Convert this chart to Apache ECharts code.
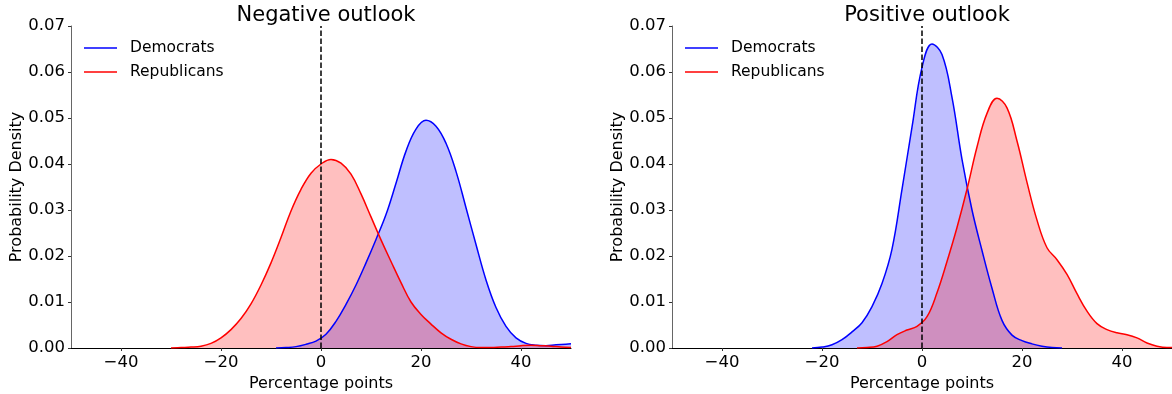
<!DOCTYPE html>
<html>
<head>
<meta charset="utf-8">
<script src="https://cdn.jsdelivr.net/npm/echarts@6/dist/echarts.min.js"></script>
<style>
  html, body { margin: 0; padding: 0; background: #fff; }
  #chart { width: 1172px; height: 394px; }
</style>
</head>
<body>
<div id="chart"></div>
<script>
// Kernel density estimates of the partisan gap (percentage points)
const panelTitles = ['Negative outlook', 'Positive outlook'];
const xTicks = [-40, -20, 0, 20, 40];

// Negative outlook – Democrats
const negDemX = [-9, -7, -5, -3, -1, 1, 3, 5, 7, 9, 11, 13, 15, 17, 19, 21, 23, 25, 27, 29, 31, 33, 35, 37, 39, 41, 43, 45, 47, 49, 50];
const negDemY = [0, 0.0001, 0.0003, 0.0008, 0.0015, 0.0030, 0.0058, 0.0095, 0.0137, 0.0185, 0.0236, 0.0290, 0.0358, 0.0428, 0.0476, 0.0495, 0.0482, 0.0445, 0.0384, 0.0305, 0.0225, 0.0148, 0.0088, 0.0047, 0.0022, 0.0010, 0.0006, 0.0005, 0.0007, 0.0008, 0.0009];

// Negative outlook – Republicans
const negRepX = [-30, -28, -26, -24, -22, -20, -18, -16, -14, -12, -10, -8, -6, -4, -2, 0, 2, 4, 6, 8, 10, 12, 14, 16, 18, 20, 22, 24, 26, 28, 30, 32, 34, 36, 38, 40, 42, 44, 46, 48, 50];
const negRepY = [0, 0.0001, 0.0002, 0.0004, 0.0010, 0.0022, 0.0040, 0.0064, 0.0096, 0.0137, 0.0185, 0.0240, 0.0298, 0.0345, 0.0380, 0.0400, 0.0410, 0.0402, 0.0378, 0.0335, 0.0285, 0.0235, 0.0188, 0.0142, 0.0100, 0.0073, 0.0052, 0.0033, 0.0019, 0.0009, 0.0003, 0.0001, 0.0001, 0.0002, 0.0003, 0.0005, 0.0006, 0.0005, 0.0004, 0.0002, 0.0001];

// Positive outlook – Democrats
const posDemX = [-22, -20, -18, -16, -14, -12, -10, -8, -6, -4, -2, 0, 2, 4, 6, 8, 10, 12, 14, 16, 18, 20, 22, 24, 26, 28];
const posDemY = [0, 0.0002, 0.0007, 0.0018, 0.0035, 0.0055, 0.0090, 0.0140, 0.0215, 0.0345, 0.0480, 0.0610, 0.0661, 0.0638, 0.0545, 0.0410, 0.0300, 0.0212, 0.0130, 0.0060, 0.0028, 0.0016, 0.0009, 0.0004, 0.0001, 0];

// Positive outlook – Republicans
const posRepX = [-13, -11, -9, -7, -5, -3, -1, 1, 3, 5, 7, 9, 11, 13, 15, 17, 19, 21, 23, 25, 27, 29, 31, 33, 35, 37, 39, 41, 43, 45, 47, 49, 50];
const posRepY = [0, 0.0001, 0.0004, 0.0014, 0.0029, 0.0039, 0.0047, 0.0068, 0.0120, 0.0188, 0.0262, 0.0345, 0.0437, 0.0510, 0.0543, 0.0522, 0.0450, 0.0360, 0.0278, 0.0218, 0.0192, 0.0160, 0.0118, 0.0080, 0.0053, 0.0040, 0.0033, 0.0029, 0.0022, 0.0011, 0.0004, 0.0001, 0.0001];

const FONT = 'DejaVu Sans';
const BLUE = '#0000ff', RED = '#ff0000';

function pairs(xs, ys) { return xs.map((x, i) => [x, ys[i]]); }

const grids = [
  { left: 71, width: 500, top: 26, bottom: 46, containLabel: false, outerBoundsMode: 'none' },
  { left: 672, width: 500, top: 26, bottom: 46, containLabel: false, outerBoundsMode: 'none' }
];

function xAxisFor(i) {
  return {
    type: 'value', gridIndex: i, min: -50, max: 50, interval: 20,
    name: 'Percentage points', nameLocation: 'middle', nameGap: 25,
    nameTextStyle: { fontFamily: FONT, fontSize: 16, color: '#000' },
    axisLine: { show: true, onZero: false, lineStyle: { color: '#000', width: 1 } },
    axisTick: { show: true, length: 3, lineStyle: { color: '#333' },
      customValues: xTicks },
    axisLabel: { fontFamily: FONT, fontSize: 16.5, color: '#000', margin: 6,
      customValues: xTicks,
      formatter: v => (v < 0 ? '\u2212' + Math.abs(v) : String(v)) },
    splitLine: { show: false }
  };
}

function yAxisFor(i) {
  return {
    type: 'value', gridIndex: i, min: 0, max: 0.07, interval: 0.01,
    name: 'Probability Density', nameLocation: 'middle', nameGap: 46,
    nameTextStyle: { fontFamily: FONT, fontSize: 16, color: '#000' },
    axisLine: { show: true, onZero: false, lineStyle: { color: '#666', width: 1 } },
    axisTick: { show: true, length: 3, lineStyle: { color: '#333' } },
    axisLabel: { fontFamily: FONT, fontSize: 16.5, color: '#000', margin: 6,
      formatter: v => v.toFixed(2) },
    splitLine: { show: false }
  };
}

function kde(name, color, xs, ys, gi, withZero) {
  const s = {
    name, type: 'line', xAxisIndex: gi, yAxisIndex: gi,
    data: pairs(xs, ys), smooth: 0.4, showSymbol: false, symbol: 'none',
    lineStyle: { color, width: 1.5 },
    itemStyle: { color },
    areaStyle: { color, opacity: 0.25 },
    silent: true
  };
  if (withZero) {
    s.markLine = {
      silent: true, symbol: 'none', label: { show: false },
      lineStyle: { color: '#000', type: [5.5, 2.5], width: 1.5 },
      data: [{ xAxis: 0 }]
    };
  }
  return s;
}

function legendItem(name, left, top) {
  return {
    data: [name], left, top, orient: 'vertical',
    icon: 'rect', itemWidth: 33, itemHeight: 1.6, itemGap: 0,
    padding: 0, selectedMode: false,
    textStyle: { fontFamily: FONT, fontSize: 15.5, color: '#000', padding: [0, 0, 0, 8] }
  };
}

const chart = echarts.init(document.getElementById('chart'), null, { renderer: 'canvas' });
chart.setOption({
  animation: false,
  backgroundColor: '#fff',
  title: panelTitles.map((t, i) => ({
    text: t, left: i === 0 ? 321 : 922, top: 0, textAlign: 'center',
    textStyle: { fontFamily: FONT, fontSize: 21, fontWeight: 'normal', color: '#000' }
  })),
  legend: [
    legendItem('Democrats', 84, 40),
    legendItem('Republicans', 84, 64),
    legendItem('Democrats', 685, 40),
    legendItem('Republicans', 685, 64)
  ],
  grid: grids,
  xAxis: [xAxisFor(0), xAxisFor(1)],
  yAxis: [yAxisFor(0), yAxisFor(1)],
  series: [
    kde('Democrats', BLUE, negDemX, negDemY, 0, true),
    kde('Republicans', RED, negRepX, negRepY, 0, false),
    kde('Democrats', BLUE, posDemX, posDemY, 1, true),
    kde('Republicans', RED, posRepX, posRepY, 1, false)
  ]
});
</script>
</body>
</html>
